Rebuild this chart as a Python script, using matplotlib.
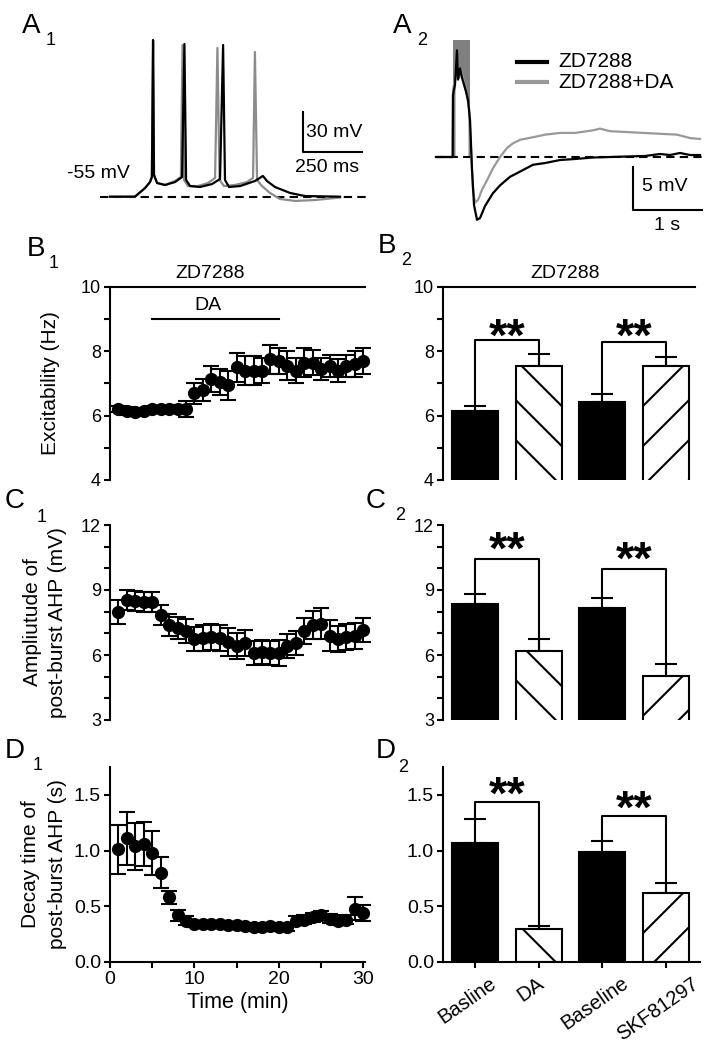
import numpy as np
import matplotlib
matplotlib.use("Agg")
import matplotlib.pyplot as plt
from matplotlib.patches import Rectangle
from matplotlib.lines import Line2D
from matplotlib.transforms import IdentityTransform, ScaledTranslation

plt.rcParams["font.family"] = ["Liberation Sans", "DejaVu Sans"]

# ---- A1: burst traces (ms, mV) ----
a1_black_t = [42, 148, 191, 212, 220, 225, 229, 242, 276, 318, 348, 358, 365, 382, 424,
              475, 509, 522, 530, 547, 594, 657, 691, 708, 742, 806, 869, 1018]
a1_black_v = [-55, -55, -48.5, -44, -40.2, 62.8, -38.7, -44.7, -46.2, -44, -40.2, 59.8,
              -42.4, -47, -47.7, -45.5, -41.7, 59, -42.4, -47.7, -47, -43.2, -39.4, -43.2,
              -47.7, -52.2, -54.5, -55]
a1_gray_t = [42, 148, 191, 212, 220, 225, 229, 242, 276, 318, 343, 350, 356, 373, 416,
             458, 488, 498, 507, 526, 572, 623, 649, 657, 666, 687, 721, 763, 827, 912,
             975, 1018]
a1_gray_v = [-55, -55, -48.5, -44, -40.2, 61.3, -38.7, -44.7, -46.2, -43.2, -40.2, 59,
             -42.4, -47, -47, -44.7, -40.9, 56.8, -42.4, -47, -46.2, -44, -40.9, 53.8,
             -42.4, -47, -52.2, -56.7, -58.2, -57.5, -56.4, -55.6]

# ---- A2: post-burst AHP traces (s, mV from baseline) ----
a2_black_t = [0, 0.242, 0.246, 0.275, 0.304, 0.319, 0.348, 0.377, 0.406, 0.435, 0.464,
              0.493, 0.522, 0.551, 0.594, 0.638, 0.710, 0.826, 0.928, 1.072, 1.217, 1.406,
              1.58, 1.797, 2.014, 2.275, 2.522, 2.768, 3.029, 3.246, 3.391, 3.536, 3.681, 3.826]
a2_black_v = [0, 0, 7.2, 8.4, 12.4, 9.0, 10.3, 9.2, 8.4, 7.6, 6.6, 4.3, -1.5, -5.6, -7.3,
              -7.1, -5.7, -4.2, -3.3, -2.3, -1.7, -0.9, -0.7, -0.35, -0.23, -0.06, 0, 0.06,
              0.12, 0.35, 0.23, 0.47, 0.23, 0.23]
a2_gray_t = [0, 0.242, 0.246, 0.275, 0.304, 0.333, 0.362, 0.406, 0.449, 0.478, 0.507,
             0.536, 0.565, 0.609, 0.667, 0.739, 0.826, 0.928, 1.029, 1.116, 1.217, 1.406,
             1.58, 1.797, 2.014, 2.275, 2.377, 2.522, 2.768, 3.0, 3.246, 3.493, 3.681, 3.826]
a2_gray_v = [0, 0, 7.8, 9.0, 11.9, 9.2, 10.1, 8.7, 7.2, 5.7, 0.8, -3.8, -5.3, -5.0, -3.8,
             -2.7, -1.3, 0, 1.05, 1.6, 2.0, 2.3, 2.6, 2.8, 2.8, 3.1, 3.3, 3.0, 2.9, 2.8,
             2.7, 2.6, 2.2, 2.1]

# ---- time courses ----
minutes = list(range(1, 31))
exc_mean = [6.2, 6.15, 6.1, 6.15, 6.2, 6.2, 6.2, 6.2, 6.2, 6.7, 6.8, 7.15, 7.05, 6.95, 7.5,
            7.4, 7.4, 7.4, 7.75, 7.7, 7.55, 7.4, 7.65, 7.65, 7.45, 7.55, 7.4, 7.55, 7.6, 7.7]
exc_sem = [0.1, 0.12, 0.12, 0.1, 0.1, 0.1, 0.1, 0.12, 0.25, 0.33, 0.35, 0.4, 0.4, 0.45,
           0.45, 0.45, 0.45, 0.4, 0.45, 0.4, 0.45, 0.4, 0.45, 0.4, 0.35, 0.35, 0.35, 0.35,
           0.4, 0.4]
amp_mean = [8.0, 8.55, 8.5, 8.45, 8.45, 7.85, 7.4, 7.25, 7.1, 6.75, 6.8, 6.85, 6.8, 6.6,
            6.4, 6.55, 6.1, 6.15, 6.1, 6.1, 6.4, 6.55, 7.1, 7.4, 7.45, 6.9, 6.75, 6.85, 6.9,
            7.15]
amp_sem = [0.55, 0.45, 0.45, 0.45, 0.45, 0.45, 0.5, 0.5, 0.55, 0.55, 0.6, 0.6, 0.6, 0.65,
           0.6, 0.6, 0.55, 0.55, 0.55, 0.6, 0.55, 0.55, 0.6, 0.65, 0.7, 0.7, 0.6, 0.6, 0.6,
           0.55]
decay_mean = [1.01, 1.11, 1.04, 1.06, 0.98, 0.80, 0.58, 0.42, 0.37, 0.34, 0.34, 0.34, 0.34,
              0.33, 0.33, 0.32, 0.31, 0.31, 0.32, 0.31, 0.31, 0.37, 0.38, 0.40, 0.42, 0.39,
              0.37, 0.38, 0.48, 0.44]
decay_sem = [0.22, 0.24, 0.21, 0.2, 0.2, 0.14, 0.06, 0.05, 0.04, 0.03, 0.03, 0.03, 0.03,
             0.03, 0.03, 0.03, 0.03, 0.03, 0.03, 0.03, 0.03, 0.04, 0.04, 0.04, 0.04, 0.04,
             0.04, 0.04, 0.1, 0.07]

# ---- bar summaries ----
bar_labels = ["Basline", "DA", "Baseline", "SKF81297"]
exc_bar_mean = [6.16, 7.53, 6.43, 7.55]
exc_bar_sem = [0.14, 0.4, 0.25, 0.26]
amp_bar_mean = [8.35, 6.18, 8.15, 5.05]
amp_bar_sem = [0.45, 0.55, 0.5, 0.53]
decay_bar_mean = [1.07, 0.30, 0.99, 0.62]
decay_bar_sem = [0.21, 0.02, 0.10, 0.09]

W, H = 710, 1046
fig = plt.figure(figsize=(W / 100, H / 100), dpi=100)
LW = 1.5


def add_ax(l, t, r, b):
    return fig.add_axes([l / W, 1 - b / H, (r - l) / W, (b - t) / H])


def panel_label(x, y, letter, num, sx, sy):
    fig.text(x / W, 1 - y / H, letter, fontsize=20, ha="left", va="baseline")
    fig.text(sx / W, 1 - sy / H, num, fontsize=13, ha="left", va="baseline")


def style_axis(ax, ylim, major, minor, size, bottom=False):
    ax.set_ylim(*ylim)
    for s in ["top", "right"]:
        ax.spines[s].set_visible(False)
    ax.spines["left"].set_linewidth(LW)
    ax.spines["bottom"].set_linewidth(LW)
    if not bottom:
        ax.spines["bottom"].set_visible(False)
        ax.tick_params(axis="x", which="both", bottom=False, labelbottom=False)
    ax.set_yticks(major)
    ax.set_yticks(minor, minor=True)
    ax.tick_params(which="both", direction="out", length=4.5, width=LW, labelsize=size, pad=2)


def hatch_bar(ax, rect, direction, spacing=40):
    ylo = max(rect.get_y(), ax.get_ylim()[0])
    x0, y0 = ax.transData.transform((rect.get_x(), ylo))
    x1, y1 = ax.transData.transform((rect.get_x() + rect.get_width(),
                                     rect.get_y() + rect.get_height()))
    h = y1 - y0
    clip = Rectangle((x0, y0), x1 - x0, h, transform=IdentityTransform())
    for c in np.arange(x0 - h - spacing, x1 + spacing, spacing):
        xs = [c, c + h] if direction == "/" else [c + h, c]
        ln = Line2D(xs, [y0, y1], color="black", lw=LW, transform=IdentityTransform(), zorder=3)
        ax.add_line(ln)
        ln.set_clip_path(clip)


def bar_panel(ax, means, sems, brackets):
    x = np.arange(len(means))
    colors = ["black", "white", "black", "white"]
    bars = ax.bar(x, means, width=0.72, color=colors, edgecolor="black", linewidth=LW, zorder=2)
    ax.errorbar(x, means, yerr=[np.zeros(len(sems)), sems], fmt="none", ecolor="black",
                elinewidth=LW, capsize=8, capthick=LW, zorder=1)
    ax.set_xlim(-0.5, 3.53)
    hatch_bar(ax, bars[1], "\\")
    hatch_bar(ax, bars[3], "/")
    for (i, j, ytop, ystar) in brackets:
        ax.plot([i, i, j, j], [means[i] + sems[i], ytop, ytop, means[j]], color="black",
                lw=LW, zorder=4, clip_on=False)
        ax.annotate("**", ((i + j) / 2, ystar), xytext=(0, -19), textcoords="offset points",
                    ha="center", va="baseline", fontsize=34, fontweight="bold",
                    annotation_clip=False)


# ---------------- A1 ----------------
ax = add_ax(100, 30, 370, 210)
ax.axis("off")
ax.set_xlim(0, 1145)
ax.set_ylim(-65, 70.3)
ax.plot([0, 1136], [-55, -55], color="black", lw=LW, dashes=(4, 2.5))
ax.plot(a1_gray_t, a1_gray_v, color="#8c8c8c", lw=1.6)
ax.plot(a1_black_t, a1_black_v, color="black", lw=1.6)
ax.plot([861, 861, 1111], [8.6, -21.4, -21.4], color="black", lw=LW)
ax.text(873, -7.1, "30 mV", fontsize=14, ha="left", va="center")
ax.text(962, -33.4, "250 ms", fontsize=14, ha="center", va="center")
ax.text(127, -37.2, "-55 mV", fontsize=14, ha="right", va="center")

# ---------------- A2 ----------------
ax = add_ax(430, 30, 710, 235)
ax.axis("off")
ax.set_xlim(-0.087, 3.97)
ax.set_ylim(-9.07, 14.77)
ax.add_patch(Rectangle((0.242, 0), 0.251, 13.6, color="#808080", lw=0, zorder=1))
bt = np.array(a2_black_t)
bv = np.array(a2_black_v)
m = (bt > 0.25) & (bt < 0.49)
ax.fill_between(bt[m], 0, bv[m], color="white", lw=0, zorder=1.5)
ax.plot([0, 3.87], [0, 0], color="black", lw=LW, dashes=(4, 2.5), zorder=2)
ax.plot(a2_gray_t, a2_gray_v, color="#999999", lw=1.6, zorder=3)
ax.plot(a2_black_t, a2_black_v, color="black", lw=1.6, zorder=4)
ax.plot([2.855, 2.855, 3.855], [-1.16, -6.16, -6.16], color="black", lw=LW)
ax.text(3.32, -3.43, "5 mV", fontsize=14, ha="center", va="center")
ax.text(3.35, -7.97, "1 s", fontsize=14, ha="center", va="center")
ax.plot([1.174, 1.609], [11.05, 11.05], color="black", lw=3)
ax.plot([1.174, 1.609], [8.72, 8.72], color="#999999", lw=3)
ax.text(1.78, 11.05, "ZD7288", fontsize=15, ha="left", va="center")
ax.text(1.78, 8.72, "ZD7288+DA", fontsize=15, ha="left", va="center")

# ---------------- B1 ----------------
ax = add_ax(110, 287, 365, 480)
style_axis(ax, (4, 10), [4, 6, 8, 10], [5, 7, 9], 13)
ax.set_xlim(0, 30.2)
ax.errorbar(minutes, exc_mean, yerr=exc_sem, fmt="o", color="black", ms=8.5, capsize=6,
            elinewidth=LW, capthick=LW, clip_on=False)
ax.plot([0, 30.2], [10, 10], color="black", lw=LW, clip_on=False)
ax.text(11.85, 10.43, "ZD7288", fontsize=14, ha="center", va="center")
ax.plot([5, 20], [9, 9], color="black", lw=LW)
ax.text(11.6, 9.44, "DA", fontsize=14, ha="center", va="center")
ax.set_ylabel("Excitability (Hz)", fontsize=15)
ax.yaxis.set_label_coords(-0.196, 0.5)

# ---------------- B2 ----------------
ax = add_ax(443, 287, 700, 480)
style_axis(ax, (4, 10), [4, 6, 8, 10], [5, 7, 9], 13)
bar_panel(ax, exc_bar_mean, exc_bar_sem, [(0, 1, 8.36, 8.83), (2, 3, 8.3, 8.83)])
ax.plot([-0.5, 3.45], [10, 10], color="black", lw=LW, clip_on=False)
ax.text(1.41, 10.43, "ZD7288", fontsize=14, ha="center", va="center")

# ---------------- C1 ----------------
ax = add_ax(110, 525, 365, 720)
style_axis(ax, (3, 12), [3, 6, 9, 12], [4, 5, 7, 8, 10, 11], 13)
ax.set_xlim(0, 30.2)
ax.errorbar(minutes, amp_mean, yerr=amp_sem, fmt="o", color="black", ms=8.5, capsize=6,
            elinewidth=LW, capthick=LW, clip_on=False)
ax.set_ylabel("Ampliutude of\npost-burst AHP (mV)", fontsize=15, linespacing=1.4)
ax.yaxis.set_label_coords(-0.169, 0.5)

# ---------------- C2 ----------------
ax = add_ax(443, 525, 700, 720)
style_axis(ax, (3, 12), [3, 6, 9, 12], [4, 5, 7, 8, 10, 11], 13)
bar_panel(ax, amp_bar_mean, amp_bar_sem, [(0, 1, 10.42, 11.42), (2, 3, 9.96, 10.96)])

# ---------------- D1 ----------------
ax = add_ax(110, 767, 365, 962)
style_axis(ax, (0, 1.75), [0, 0.5, 1.0, 1.5], [], 14, bottom=True)
ax.set_yticklabels(["0.0", "0.5", "1.0", "1.5"])
ax.set_xlim(0, 30.2)
ax.set_xticks([0, 10, 20, 30])
ax.set_xticks([5, 15, 25], minor=True)
ax.errorbar(minutes, decay_mean, yerr=decay_sem, fmt="o", color="black", ms=8.5, capsize=6,
            elinewidth=LW, capthick=LW, clip_on=False)
ax.set_xlabel("Time (min)", fontsize=15.5)
ax.xaxis.set_label_coords(0.5, -0.155)
ax.set_ylabel("Decay time of\npost-burst AHP (s)", fontsize=15, linespacing=1.55)
ax.yaxis.set_label_coords(-0.169, 0.5)

# ---------------- D2 ----------------
ax = add_ax(443, 767, 700, 962)
style_axis(ax, (0, 1.75), [0, 0.5, 1.0, 1.5], [], 14, bottom=True)
ax.set_yticklabels(["0.0", "0.5", "1.0", "1.5"])
bar_panel(ax, decay_bar_mean, decay_bar_sem, [(0, 1, 1.44, 1.61), (2, 3, 1.31, 1.49)])
ax.set_xticks(range(4))
ax.set_xticklabels(bar_labels, rotation=35, ha="center", fontsize=14.5)
ax.tick_params(axis="x", pad=4)
shift = ScaledTranslation(-8 / 100, 0, fig.dpi_scale_trans)
for lab in ax.get_xticklabels():
    lab.set_transform(lab.get_transform() + shift)

# ---------------- panel letters ----------------
panel_label(22, 33, "A", "1", 46, 45)
panel_label(393, 33, "A", "2", 417, 45)
panel_label(27, 256, "B", "1", 49, 268)
panel_label(378, 253, "B", "2", 401, 265)
panel_label(5, 508, "C", "1", 37, 522)
panel_label(366, 508, "C", "2", 395, 520)
panel_label(5, 758, "D", "1", 33, 770)
panel_label(376, 758, "D", "2", 398, 772)

fig.savefig("out.png", dpi=100)
